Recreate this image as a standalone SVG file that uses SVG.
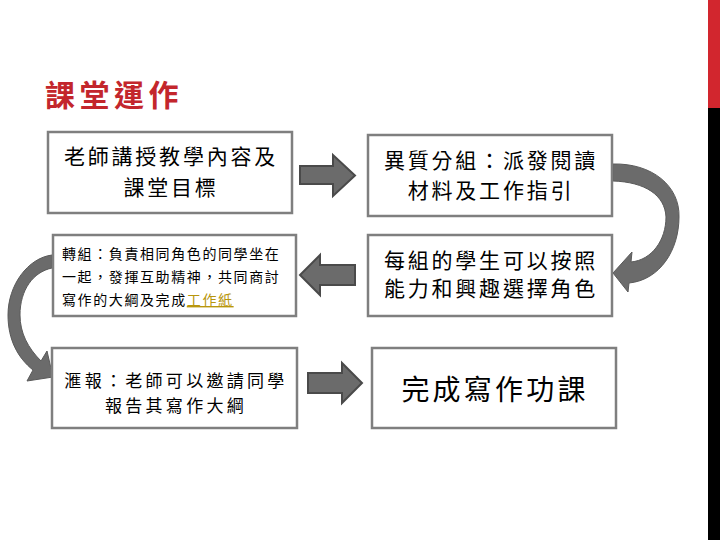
<svg xmlns="http://www.w3.org/2000/svg" width="720" height="540" viewBox="0 0 720 540">
<style>
.box{fill:#ffffff;stroke:#7f7f7f;stroke-width:2.5}
.t{font-family:"Noto Sans CJK TC","Noto Sans CJK SC",sans-serif;fill:#000000}
.arr{fill:#6b6b6b;stroke:#4a4a4a;stroke-width:2;stroke-linejoin:miter}
.carr{fill:#6b6b6b;stroke:#5a5a5a;stroke-width:1}
</style>
<rect width="720" height="540" fill="#ffffff"/>
<rect x="708" y="0" width="12" height="108" fill="#d2262e"/>
<rect x="708" y="108" width="12" height="432" fill="#000000"/>
<text x="45" y="106" font-family="Noto Sans CJK TC,Noto Sans CJK SC,sans-serif" font-size="30" font-weight="bold" letter-spacing="4.5" fill="#c3262c">課堂運作</text>

<g id="connectors">
<path class="arr" d="M300,166 L333,166 L333,155 L355,175.5 L333,196 L333,184 L300,184 Z"/>
<path class="arr" d="M355,265 L320,265 L320,255 L300,275 L320,295 L320,285 L355,285 Z"/>
<path class="arr" d="M308,373 L342,373 L342,363 L362,383 L342,403 L342,393 L308,393 Z"/>
<path class="carr" d="M613,164 C652,163 680,186 679,217 C679,250 660,280 629,283 L628,292 L613,273 L632,252 L631,262 C652,260 666,240 666,217 C665,195 645,182 613,181 Z"/>
<path class="carr" d="M52,255 C28,258 8,285 8,315 C8,340 18,358 33,370 L27,381 L53,377 L47,351 L41,361 C28,348 20,333 20,315 C20,290 33,272 52,268 Z"/>
</g>

<g id="n1">
<rect class="box" x="48" y="132" width="244" height="81"/>
<text class="t" x="171" y="164" font-size="21" letter-spacing="2.8" text-anchor="middle">老師講授教學內容及</text>
<text class="t" x="171" y="195" font-size="21" letter-spacing="2.8" text-anchor="middle">課堂目標</text>
</g>
<g id="n2">
<rect class="box" x="368" y="135" width="244" height="81"/>
<text class="t" x="491" y="168" font-size="21" letter-spacing="2.8" text-anchor="middle">異質分組：派發閱讀</text>
<text class="t" x="491" y="198" font-size="21" letter-spacing="2.8" text-anchor="middle">材料及工作指引</text>
</g>
<g id="n3">
<rect class="box" x="368" y="235" width="244" height="81"/>
<text class="t" x="491" y="268" font-size="21" letter-spacing="2.8" text-anchor="middle">每組的學生可以按照</text>
<text class="t" x="491" y="296" font-size="21" letter-spacing="2.8" text-anchor="middle">能力和興趣選擇角色</text>
</g>
<g id="n4">
<rect class="box" x="53" y="235" width="243" height="81"/>
<text class="t" x="62" y="259" font-size="14" letter-spacing="1.6">轉組：負責相同角色的同學坐在</text>
<text class="t" x="62" y="282" font-size="14" letter-spacing="1.6">一起，發揮互助精神，共同商討</text>
<text class="t" x="62" y="305" font-size="14" letter-spacing="1.6">寫作的大綱及完成<tspan fill="#b8960c" text-decoration="underline">工作紙</tspan></text>
</g>
<g id="n5">
<rect class="box" x="52" y="348" width="245" height="80"/>
<text class="t" x="176" y="387" font-size="17" letter-spacing="3.3" text-anchor="middle">滙報：老師可以邀請同學</text>
<text class="t" x="176" y="412" font-size="17" letter-spacing="3.3" text-anchor="middle">報告其寫作大綱</text>
</g>
<g id="n6">
<rect class="box" x="372" y="348" width="244" height="80"/>
<text class="t" x="495" y="400" font-size="28" letter-spacing="3.2" text-anchor="middle">完成寫作功課</text>
</g>
</svg>
